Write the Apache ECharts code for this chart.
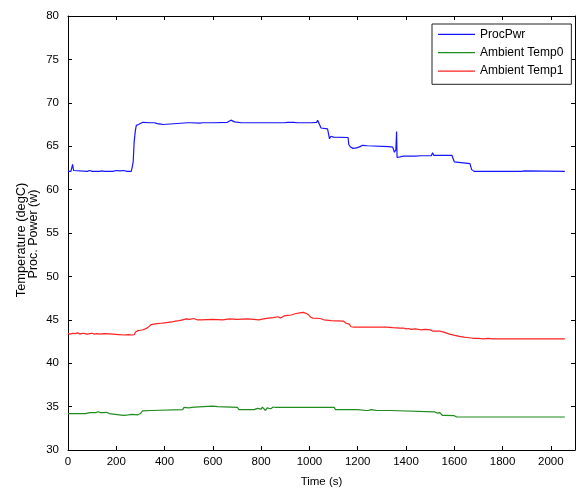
<!DOCTYPE html>
<html>
<head>
<meta charset="utf-8">
<script src="https://cdn.jsdelivr.net/npm/echarts@6/dist/echarts.min.js"></script>
<style>
html,body{margin:0;padding:0;background:#fff;}
#chart{width:577px;height:493px;}
</style>
</head>
<body>
<div id="chart"></div>
<script>
// ---- data ----
const seriesNames = ['ProcPwr', 'Ambient Temp0', 'Ambient Temp1'];
const xTicks = [0, 200, 400, 600, 800, 1000, 1200, 1400, 1600, 1800, 2000];
const yTicks = [30, 35, 40, 45, 50, 55, 60, 65, 70, 75, 80];

const procTime = [0,12,16,19,23,28,80,90,100,130,140,150,185,192,200,215,230,245,262,266,270,274,279,283,288,292,298,310,340,358,364,370,375,385,394,400,495,502,508,545,551,558,600,660,675,690,718,723,730,800,895,902,910,935,943,950,990,998,1005,1030,1034,1040,1048,1075,1080,1083,1089,1100,1160,1163,1170,1180,1195,1200,1210,1220,1240,1328,1345,1352,1358,1361,1363,1366,1390,1440,1460,1505,1510,1515,1590,1600,1605,1665,1672,1682,1860,1868,1878,1890,1895,2058];
const procPwr  = [62.1,62.1,62.3,62.9,62.2,62.1,62.1,62.2,62.1,62.1,62.15,62.1,62.1,62.3,62.2,62.15,62.2,62.1,62.1,62.6,63.2,65.5,66.8,67.4,67.2,67.5,67.7,67.75,67.7,67.7,67.9,67.6,67.5,67.55,67.5,67.7,67.7,67.85,67.7,67.65,67.45,67.7,67.7,67.75,68.0,67.8,67.7,67.55,67.7,67.7,67.7,67.85,67.75,67.75,67.8,67.7,67.7,67.55,67.7,67.75,68.0,67.8,67.1,67.0,66.3,65.85,66.15,66.05,66.0,65.2,64.9,64.75,64.8,65.0,64.95,65.1,65.05,64.95,64.9,64.3,64.6,66.7,63.7,63.9,63.85,63.85,63.9,63.9,64.25,63.95,63.95,63.2,63.0,63.0,62.3,62.1,62.1,62.2,62.1,62.15,62.1,62.1];

const amb0Time = [0,72,76,90,95,100,108,115,125,135,150,160,170,178,230,250,255,265,270,290,300,309,345,350,475,480,500,505,510,560,600,620,627,702,708,720,725,730,770,775,785,790,800,805,812,818,825,832,840,850,860,1103,1108,1200,1205,1235,1240,1245,1255,1260,1270,1280,1335,1340,1517,1530,1540,1550,1560,1600,1610,2058];
const amb0     = [34.2,34.2,34.35,34.3,34.4,34.3,34.4,34.3,34.4,34.3,34.3,34.35,34.2,34.05,34.0,34.05,34.0,34.1,34.0,34.05,34.2,34.5,34.55,34.65,34.65,34.9,34.85,34.7,34.9,35.0,35.05,35.0,34.9,34.9,34.65,34.65,34.85,34.65,34.65,34.85,34.8,34.9,34.7,34.95,34.75,34.55,34.85,34.9,34.75,34.95,34.9,34.9,34.65,34.65,34.55,34.55,34.65,34.55,34.65,34.55,34.6,34.55,34.55,34.4,34.4,34.25,34.3,34.0,34.0,33.95,33.8,33.8];

const amb1Time = [0,10,20,30,40,50,60,70,80,90,100,110,120,130,150,170,185,192,210,230,250,265,275,280,290,300,310,320,330,338,345,355,370,385,400,415,430,445,460,475,490,505,520,535,550,600,640,670,700,740,770,790,810,830,850,870,880,895,910,925,940,960,975,985,995,1005,1015,1045,1060,1090,1140,1152,1165,1172,1180,1185,1250,1255,1260,1320,1325,1345,1375,1390,1400,1410,1420,1440,1460,1480,1500,1510,1540,1560,1580,1620,1640,1670,1680,1700,1720,1740,1760,2058];
const amb1     = [43.4,43.35,43.45,43.4,43.5,43.35,43.45,43.4,43.35,43.4,43.45,43.35,43.4,43.35,43.4,43.38,43.35,43.25,43.3,43.25,43.3,43.25,43.3,43.6,43.75,43.8,43.85,43.95,44.1,44.2,44.45,44.5,44.55,44.6,44.65,44.7,44.75,44.85,44.9,45.0,45.1,45.05,45.15,45.0,45.0,45.05,45.0,45.1,45.05,45.1,45.05,45.0,45.1,45.2,45.25,45.35,45.2,45.45,45.5,45.55,45.7,45.8,45.85,45.75,45.6,45.3,45.2,45.15,45.0,44.9,44.85,44.6,44.5,44.2,44.3,44.15,44.15,44.25,44.15,44.15,44.05,44.1,44.05,44.05,43.95,44.0,43.9,43.95,43.85,43.9,43.85,43.7,43.7,43.55,43.35,43.1,43.0,42.9,42.85,42.85,42.8,42.85,42.8,42.8];

const colors = ['#1414ff', '#1f8c1f', '#ff2222'];

// ---- chart ----
const zip = (t, v) => t.map((x, i) => [x, v[i]]);
const tickFont = {color: '#000', fontFamily: '"Liberation Sans", Arial, sans-serif', fontSize: 11.5};
const xBase = {type: 'value', min: xTicks[0], max: 2100, interval: xTicks[1] - xTicks[0],
  splitLine: {show: false},
  axisLine: {show: true, onZero: false, lineStyle: {color: '#000', width: 1}},
  axisTick: {show: true, inside: true, length: 4, lineStyle: {color: '#000'}}};
const yBase = {type: 'value', min: yTicks[0], max: yTicks[yTicks.length - 1], interval: yTicks[1] - yTicks[0],
  splitLine: {show: false},
  axisLine: {show: true, onZero: false, lineStyle: {color: '#000', width: 1}},
  axisTick: {show: true, inside: true, length: 4, lineStyle: {color: '#000'}}};

const chart = echarts.init(document.getElementById('chart'), null, {renderer: 'canvas'});
chart.setOption({
  animation: false,
  backgroundColor: '#fff',
  grid: {left: 68, right: 2, top: 16, bottom: 39, containLabel: false},
  xAxis: [
    Object.assign({}, xBase, {position: 'bottom',
      axisLabel: Object.assign({show: true, margin: 6, showMaxLabel: false, formatter: v => String(v)}, tickFont),
      name: 'Time (s)', nameLocation: 'middle', nameGap: 26,
      nameTextStyle: {color: '#000', fontFamily: '"Liberation Sans", Arial, sans-serif', fontSize: 11.5}}),
    Object.assign({}, xBase, {position: 'top', axisLabel: {show: false}})
  ],
  yAxis: [
    Object.assign({}, yBase, {position: 'left', axisLabel: Object.assign({show: true, margin: 9, formatter: v => String(v)}, tickFont)}),
    Object.assign({}, yBase, {position: 'right', axisLabel: {show: false}})
  ],
  legend: {
    show: true, orient: 'vertical', left: 432, top: 24,
    data: seriesNames.map(n => ({name: n, icon: 'rect'})),
    itemWidth: 37, itemHeight: 1.2, itemGap: 4.4,
    padding: [3.3, 8, 6.2, 6],
    borderColor: '#222', borderWidth: 1, backgroundColor: '#fff',
    textStyle: {color: '#000', fontFamily: '"Liberation Sans", Arial, sans-serif', fontSize: 12, lineHeight: 14},
    selectedMode: false
  },
  graphic: [
    {type: 'text', x: 21, y: 240, rotation: Math.PI / 2,
      style: {text: 'Temperature (degC)', align: 'center', verticalAlign: 'middle', fill: '#000',
        font: '12.8px "Liberation Sans", Arial, sans-serif'}},
    {type: 'text', x: 34, y: 234, rotation: Math.PI / 2,
      style: {text: 'Proc. Power (w)', align: 'center', verticalAlign: 'middle', fill: '#000',
        font: '12.5px "Liberation Sans", Arial, sans-serif'}}
  ],
  series: [
    {name: seriesNames[0], type: 'line', data: zip(procTime, procPwr), symbol: 'none', color: colors[0], lineStyle: {width: 1.2, color: colors[0]}, xAxisIndex: 0, yAxisIndex: 0},
    {name: seriesNames[1], type: 'line', data: zip(amb0Time, amb0), symbol: 'none', color: colors[1], lineStyle: {width: 1.2, color: colors[1]}, xAxisIndex: 0, yAxisIndex: 0},
    {name: seriesNames[2], type: 'line', data: zip(amb1Time, amb1), symbol: 'none', color: colors[2], lineStyle: {width: 1.2, color: colors[2]}, xAxisIndex: 0, yAxisIndex: 0}
  ]
});
</script>
</body>
</html>
